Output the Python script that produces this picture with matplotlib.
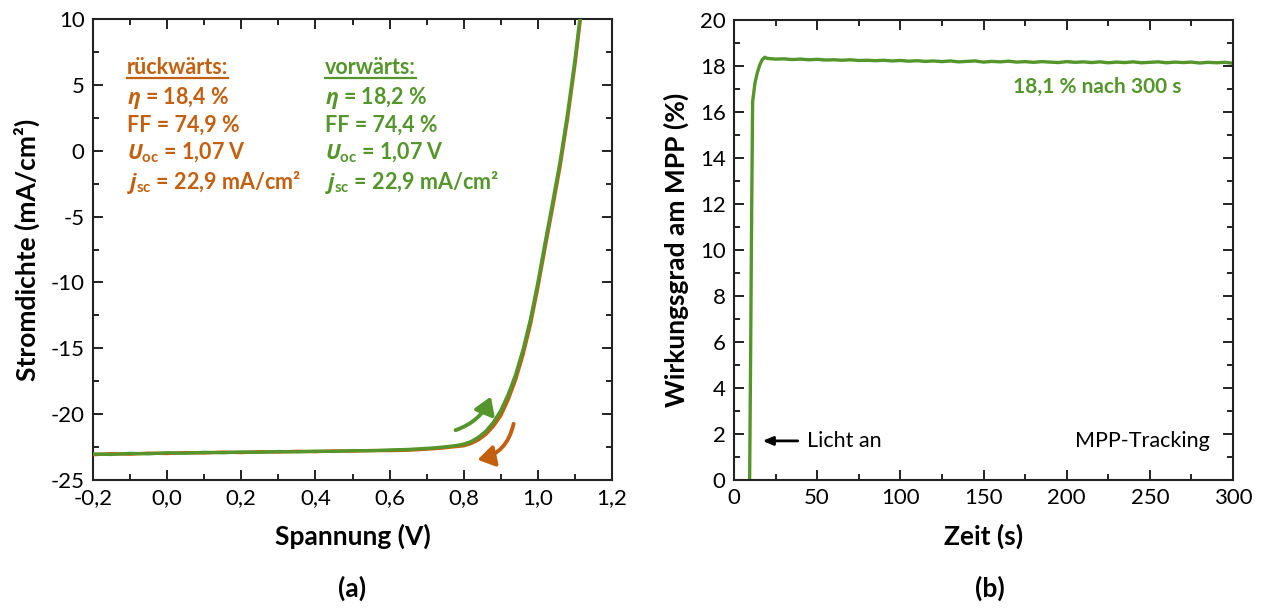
import matplotlib
matplotlib.use("Agg")
import matplotlib.pyplot as plt
from matplotlib.ticker import MultipleLocator, FuncFormatter
from matplotlib.patches import FancyArrowPatch
from matplotlib.lines import Line2D

plt.rcParams['font.family'] = ['Lato', 'DejaVu Sans']
plt.rcParams['mathtext.fontset'] = 'custom'
plt.rcParams['mathtext.it'] = 'Open Sans:italic:bold'
plt.rcParams['mathtext.rm'] = 'Lato:bold'
plt.rcParams['mathtext.bf'] = 'Lato:bold'

ORANGE = '#C2600F'
GREEN = '#54962C'

# J-V curves (voltage in V, current density in mA/cm²)
voltage = [-0.20, -0.15, -0.10, -0.05, 0.00, 0.05, 0.10, 0.15, 0.20, 0.25,
           0.30, 0.35, 0.40, 0.45, 0.50, 0.55, 0.60, 0.65,
           0.70, 0.72, 0.74, 0.76, 0.78, 0.80, 0.82, 0.84, 0.86, 0.88,
           0.90, 0.92, 0.94, 0.96, 0.98, 1.00, 1.02, 1.04, 1.06, 1.08,
           1.10, 1.12]
j_forward = [-23.02, -23.06, -22.98, -23.01, -22.93, -22.97, -22.90, -22.93, -22.87, -22.90,
             -22.84, -22.87, -22.81, -22.83, -22.77, -22.78, -22.72, -22.68,
             -22.60, -22.56, -22.51, -22.45, -22.38, -22.28, -22.08, -21.75, -21.28, -20.62,
             -19.72, -18.50, -17.00, -15.10, -12.80, -10.00, -6.90, -3.90, -0.80, 2.80,
             6.90, 11.60]
j_reverse = [-23.08, -23.00, -23.04, -22.96, -22.99, -22.92, -22.95, -22.88, -22.92, -22.85,
             -22.88, -22.82, -22.85, -22.79, -22.81, -22.76, -22.77, -22.74,
             -22.66, -22.62, -22.58, -22.52, -22.46, -22.40, -22.23, -21.95, -21.53, -20.92,
             -20.12, -18.90, -17.40, -15.50, -13.20, -10.40, -7.30, -4.30, -1.20, 2.40,
             6.50, 11.20]

# MPP tracking (time in s, efficiency in %)
t_mpp = [9.4, 10.0, 10.6, 11.2, 12.6, 14.0, 15.5, 17.0, 18.6,
         20, 25, 30, 35, 40, 45, 50, 55, 60, 65, 70, 75, 80, 85, 90, 95,
         100, 105, 110, 115, 120, 125, 130, 135, 140, 145, 150, 155, 160, 165,
         170, 175, 180, 185, 190, 195, 200, 205, 210, 215, 220, 225, 230, 235,
         240, 245, 250, 255, 260, 265, 270, 275, 280, 285, 290, 295, 300]
eff_mpp = [0.0, 5.5, 11.5, 16.45, 17.26, 17.7, 18.05, 18.28, 18.38,
           18.33, 18.30, 18.31, 18.28, 18.30, 18.27, 18.29, 18.26, 18.27, 18.25, 18.27, 18.24,
           18.25, 18.23, 18.25, 18.22, 18.24, 18.21, 18.23, 18.20, 18.22, 18.19, 18.22, 18.18,
           18.20, 18.22, 18.17, 18.20, 18.18, 18.21, 18.17, 18.19, 18.16, 18.19, 18.17, 18.15,
           18.19, 18.16, 18.18, 18.15, 18.18, 18.14, 18.17, 18.15, 18.18, 18.14, 18.16, 18.18,
           18.14, 18.17, 18.15, 18.17, 18.13, 18.16, 18.14, 18.16, 18.12]

reverse_lines = ['rückwärts:', r'$\eta$ = 18,4 %', 'FF = 74,9 %',
                 r'$U_{\mathrm{oc}}$ = 1,07 V', r'$j_{\mathrm{sc}}$ = 22,9 mA/cm²']
forward_lines = ['vorwärts:', r'$\eta$ = 18,2 %', 'FF = 74,4 %',
                 r'$U_{\mathrm{oc}}$ = 1,07 V', r'$j_{\mathrm{sc}}$ = 22,9 mA/cm²']

W, H = 1262, 609
fig = plt.figure(figsize=(W / 100, H / 100), dpi=100)
ax1 = fig.add_axes([93 / W, 1 - 480 / H, (612 - 93) / W, (480 - 19) / H])
ax2 = fig.add_axes([734 / W, 1 - 480 / H, (1233 - 734) / W, (480 - 20) / H])


def comma(fmt):
    return FuncFormatter(lambda v, p: (fmt % v).replace('.', ',').replace('\u2212', '-'))


for ax in (ax1, ax2):
    for s in ax.spines.values():
        s.set_linewidth(1.5)
        s.set_color('#222222')
    ax.tick_params(which='both', direction='in', top=True, right=True,
                   width=1.4, color='#222222', labelsize=16, pad=6)
    ax.tick_params(which='major', length=7)
    ax.tick_params(which='minor', length=4)

# ---- (a) J-V curves
ax1.plot(voltage, j_reverse, color=ORANGE, lw=2.4, zorder=3)
ax1.plot(voltage, j_forward, color=GREEN, lw=2.4, zorder=4)
ax1.set_xlim(-0.2, 1.2)
ax1.set_ylim(-25, 10)
ax1.xaxis.set_major_locator(MultipleLocator(0.2))
ax1.xaxis.set_minor_locator(MultipleLocator(0.1))
ax1.yaxis.set_major_locator(MultipleLocator(5))
ax1.yaxis.set_minor_locator(MultipleLocator(2.5))
ax1.xaxis.set_major_formatter(comma('%.1f'))
ax1.yaxis.set_major_formatter(comma('%.0f'))
ax1.set_xlabel('Spannung (V)', fontsize=19, fontweight='bold', labelpad=11)
ax1.set_ylabel('Stromdichte (mA/cm²)', fontsize=19, fontweight='bold', labelpad=8)

# scan-direction arrows
arrow_style = '-|>,head_length=5,head_width=3.2'
ax1.add_patch(FancyArrowPatch((0.771, -21.28), (0.876, -18.47),
                              connectionstyle='arc3,rad=0.25', arrowstyle=arrow_style,
                              color=GREEN, lw=2.8, mutation_scale=2, zorder=5))
ax1.add_patch(FancyArrowPatch((0.936, -20.52), (0.830, -23.50),
                              connectionstyle='arc3,rad=-0.35', arrowstyle=arrow_style,
                              color=ORANGE, lw=2.8, mutation_scale=2, zorder=5))

line_y = [68, 98, 125, 153, 182]
headers = []
for lines, x_px, col in ((reverse_lines, 127, ORANGE), (forward_lines, 325, GREEN)):
    for k, (txt, y_px) in enumerate(zip(lines, line_y)):
        t = fig.text(x_px / W, 1 - y_px / H, txt, color=col, fontsize=15.5,
                     fontweight='bold', ha='left', va='center')
        if k == 0:
            headers.append((t, col))

# ---- (b) MPP tracking
ax2.plot(t_mpp, eff_mpp, color=GREEN, lw=2.4)
ax2.set_xlim(0, 300)
ax2.set_ylim(0, 20)
ax2.xaxis.set_major_locator(MultipleLocator(50))
ax2.xaxis.set_minor_locator(MultipleLocator(25))
ax2.yaxis.set_major_locator(MultipleLocator(2))
ax2.yaxis.set_minor_locator(MultipleLocator(1))
ax2.set_xlabel('Zeit (s)', fontsize=19, fontweight='bold', labelpad=11)
ax2.set_ylabel('Wirkungsgrad am MPP (%)', fontsize=19, fontweight='bold', labelpad=8)
ax2.annotate('', xy=(15.5, 1.7), xytext=(40, 1.7),
             arrowprops=dict(arrowstyle='-|>,head_length=0.6,head_width=0.25',
                             color='black', lw=2))
ax2.text(44, 1.7, 'Licht an', fontsize=15.5, ha='left', va='center')
ax2.text(286, 1.7, 'MPP-Tracking', fontsize=15.5, ha='right', va='center')
ax2.text(269, 17.1, '18,1 % nach 300 s', fontsize=15, fontweight='bold',
         color=GREEN, ha='right', va='center')

fig.text(352 / W, 1 - 588 / H, '(a)', fontsize=19, fontweight='bold', ha='center', va='center')
fig.text(990 / W, 1 - 588 / H, '(b)', fontsize=19, fontweight='bold', ha='center', va='center')

# underline the two header words
fig.canvas.draw()
r = fig.canvas.get_renderer()
for t, col in headers:
    bb = t.get_window_extent(r)
    y = bb.y0 + 1
    fig.add_artist(Line2D([bb.x0 / W, bb.x1 / W], [y / H, y / H], color=col, lw=1.6))

fig.savefig('out.png', dpi=100)
